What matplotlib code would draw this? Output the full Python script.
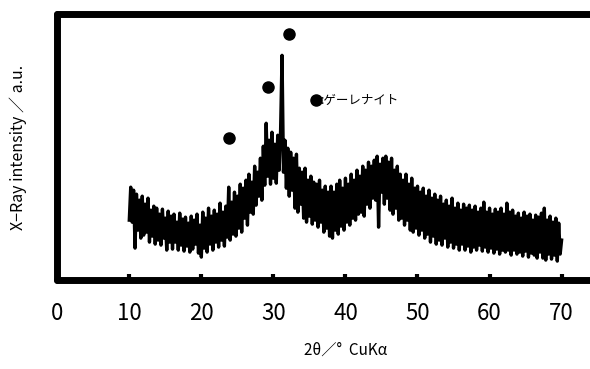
import matplotlib
matplotlib.use("Agg")
import numpy as np
import matplotlib.pyplot as plt

plt.rcParams['font.family'] = ['Noto Sans CJK JP', 'DejaVu Sans']

# scan settings (2theta, deg)
scan_start = 10.0
scan_step = 0.2

# intensity (a.u.), one row = 2 deg
intensity = [
    60, 93, 58, 90, 32, 86, 50, 80, 42, 84,
    45, 76, 48, 82, 38, 70, 44, 74, 36, 72,
    40, 66, 35, 71, 42, 62, 30, 69, 38, 64,
    31, 66, 38, 58, 30, 67, 35, 61, 29, 63,
    34, 57, 28, 64, 31, 60, 36, 66, 27, 55,
    23, 68, 32, 62, 28, 72, 36, 64, 30, 70,
    38, 66, 33, 77, 40, 68, 34, 74, 43, 93,
    40, 78, 46, 88, 44, 84, 52, 96, 48, 92,
    62, 100, 55, 106, 68, 98, 66, 114, 75, 108,
    84, 122, 80, 134, 95, 157, 104, 140, 96, 148,
    102, 136, 97, 145, 110, 150, 225, 108, 140, 92,
    132, 84, 128, 90, 122, 72, 126, 68, 112, 76,
    108, 62, 112, 58, 100, 64, 104, 56, 98, 60,
    96, 53, 100, 58, 90, 48, 94, 52, 88, 44,
    94, 42, 88, 50, 96, 46, 100, 54, 92, 50,
    102, 58, 96, 55, 106, 62, 100, 60, 110, 66,
    104, 68, 114, 64, 110, 76, 118, 72, 114, 82,
    120, 80, 124, 53, 116, 88, 122, 76, 124, 82,
    118, 70, 122, 66, 110, 72, 114, 60, 106, 62,
    100, 55, 106, 60, 96, 50, 102, 48, 92, 52,
    94, 45, 88, 50, 92, 42, 84, 46, 90, 38,
    82, 44, 86, 36, 80, 40, 84, 35, 76, 42,
    80, 33, 74, 38, 82, 32, 72, 36, 77, 30,
    70, 36, 76, 30, 72, 34, 75, 28, 70, 33,
    74, 30, 68, 35, 72, 29, 78, 33, 68, 28,
    72, 32, 66, 27, 71, 31, 68, 26, 72, 30,
    66, 28, 77, 30, 68, 25, 70, 30, 64, 26,
    67, 28, 62, 24, 68, 29, 64, 23, 66, 27,
    60, 25, 65, 22, 63, 28, 67, 22, 72, 20,
    60, 26, 64, 21, 58, 25, 62, 19, 57, 26,
    40,
]

# gehlenite peak marks
peak_x = [23.8, 29.3, 32.2]
peak_y = [142, 193, 246]
legend_x = 35.9
legend_y = 180
legend_text = ":ゲーレナイト"

xticks = [0, 10, 20, 30, 40, 50, 60, 70]

two_theta = scan_start + scan_step * np.arange(len(intensity))

fig = plt.figure(figsize=(5.9, 3.69), dpi=100)
ax = fig.add_axes([0.097, 0.241, 0.977, 0.72])

ax.plot(two_theta, intensity, color='black', lw=2.4)
ax.plot(peak_x, peak_y, 'o', color='black', ms=8)
ax.plot([legend_x], [legend_y], 'o', color='black', ms=8)
ax.text(legend_x + 0.6, legend_y, legend_text, fontsize=9, va='center', ha='left')

ax.set_xlim(0, 80)
ax.set_ylim(0, 266)
ax.set_xticks(xticks)
ax.set_yticks([])
ax.tick_params(axis='x', direction='in', length=4, width=3, pad=16, labelsize=16)

for s in ax.spines.values():
    s.set_linewidth(5)
    s.set_capstyle('round')

ax.set_xlabel("2θ／°  CuKα", fontsize=11, labelpad=12)
ax.set_ylabel("X−Ray intensity ／ a.u.", fontsize=11.5, labelpad=22)

fig.savefig("out.png", dpi=100)
